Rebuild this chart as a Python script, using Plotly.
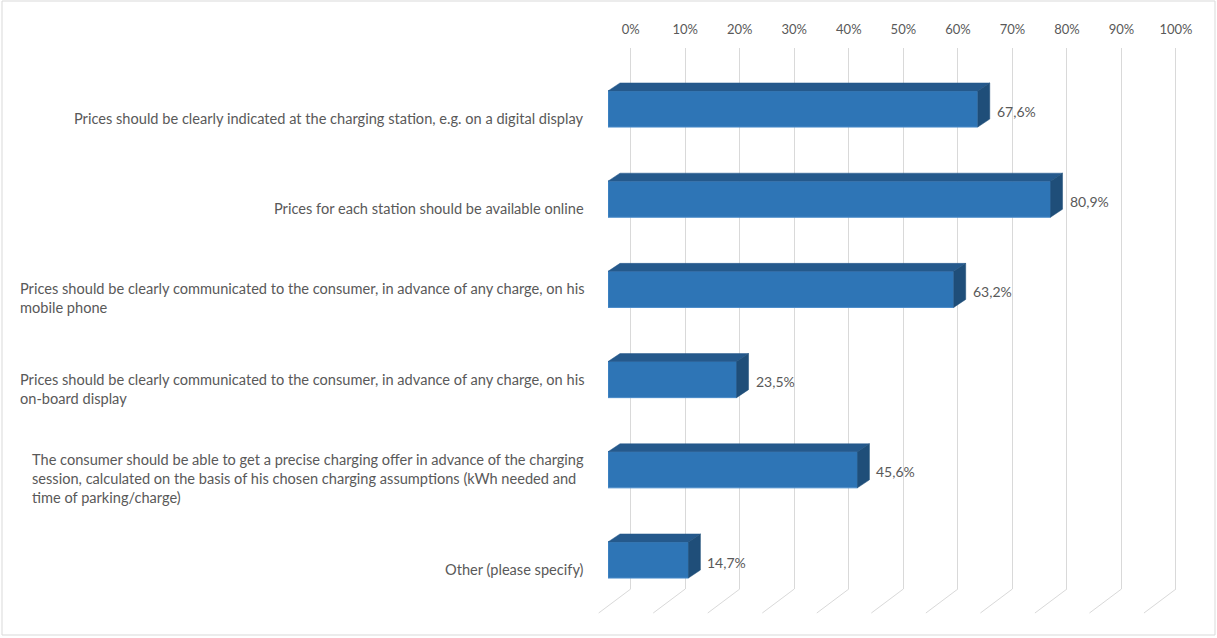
import plotly.graph_objects as go

# Survey answers (share of respondents)
categories = [
    "Prices should be clearly indicated at the charging station, e.g. on a digital display",
    "Prices for each station should be available online",
    "Prices should be clearly communicated to the consumer, in advance of any charge, on his<br>mobile phone",
    "Prices should be clearly communicated to the consumer, in advance of any charge, on his<br>on-board display",
    "The consumer should be able to get a precise charging offer in advance of the charging<br>session, calculated on the basis of his chosen charging assumptions (kWh needed and<br>time of parking/charge)",
    "Other (please specify)",
]
values = [67.6, 80.9, 63.2, 23.5, 45.6, 14.7]
tick_values = list(range(0, 101, 10))
tick_labels = [f"{t}%" for t in tick_values]

W, H = 1217, 638

# pixel geometry of the pseudo-3D frame
FRONT_X0, FRONT_PX = 608, 5.47      # bar front plane: left edge, px per %
BACK_X0, BACK_PX = 630.7, 5.453     # back wall: left edge, px per %
WALL_TOP, WALL_BOTTOM = 48, 589     # vertical extent of back wall grid
FLOOR_DX, FLOOR_DY = 32, 24         # floor depth (px)
ROW0, ROW_STEP = 109, 90.2          # centre of first bar, spacing (px)
BAR_H = 0.4                         # bar thickness in category units
DEPTH_DX, DEPTH_DY = 12, 8          # bar depth (px)
WALL_PAD = 7                        # extra room (in %) left of 0 for the floor lines

TEXT = "#595959"
GRID = "#d9d9d9"
FRONT = "#2e75b6"
TOP = "#25598c"
SIDE = "#1f4e79"
FONT = "Lato"

rows = list(range(len(categories)))

fig = go.Figure()

fig.add_trace(go.Bar(
    x=values, y=rows, orientation="h", width=BAR_H,
    xaxis="x2", yaxis="y2",
    marker=dict(color=FRONT, line=dict(color="#4a8bc9", width=1)),
    hoverinfo="skip", showlegend=False,
))

ddx = DEPTH_DX / FRONT_PX
ddy = DEPTH_DY / ROW_STEP
half = BAR_H / 2
shapes = []
annotations = []

for k, v in zip(rows, values):
    top, bot = k - half, k + half
    # top face
    shapes.append(dict(
        type="path", xref="x2", yref="y2", layer="above",
        path=f"M 0,{top} L {ddx},{top - ddy} L {v + ddx},{top - ddy} L {v},{top} Z",
        fillcolor=TOP, line=dict(color=TOP, width=0.5),
    ))
    # side face
    shapes.append(dict(
        type="path", xref="x2", yref="y2", layer="above",
        path=f"M {v},{top} L {v + ddx},{top - ddy} L {v + ddx},{bot - ddy} L {v},{bot} Z",
        fillcolor=SIDE, line=dict(color=SIDE, width=0.5),
    ))
    # value label
    annotations.append(dict(
        xref="x2", yref="y2", x=v + ddx, y=k + 2 / ROW_STEP,
        text=f"{v:.1f}".replace(".", ",") + "%",
        showarrow=False, xanchor="left", yanchor="middle", xshift=5,
        font=dict(family=FONT, size=14, color=TEXT),
    ))

for k, label in zip(rows, categories):
    annotations.append(dict(
        xref="paper", yref="y2", x=586 / W, y=k + 9 / ROW_STEP,
        text=label, showarrow=False, xanchor="right", yanchor="middle", align="left",
        font=dict(family=FONT, size=14.6, color=TEXT),
    ))

# floor part of the gridlines, slanting towards the viewer
floor_y0 = 1 - WALL_BOTTOM / H
floor_y1 = 1 - (WALL_BOTTOM + FLOOR_DY) / H
for t in tick_values:
    shapes.append(dict(
        type="line", xref="x", yref="paper", layer="below",
        x0=t, y0=floor_y0, x1=t - FLOOR_DX / BACK_PX, y1=floor_y1,
        line=dict(color=GRID, width=1),
    ))

# outer chart border
shapes.append(dict(
    type="rect", xref="paper", yref="paper", x0=2 / W, x1=1 - 2 / W, y0=3 / H, y1=1 - 1 / H,
    line=dict(color=GRID, width=1), layer="below",
))

fig.update_layout(
    template="none",
    width=W, height=H, autosize=False,
    margin=dict(l=0, r=0, t=0, b=0, pad=0),
    paper_bgcolor="white", plot_bgcolor="rgba(0,0,0,0)",
    separators=",.",
    showlegend=False,
    xaxis=dict(
        domain=[(BACK_X0 - WALL_PAD * BACK_PX) / W, (BACK_X0 + 100 * BACK_PX + 1) / W],
        range=[-WALL_PAD, 100 + 1 / BACK_PX],
        anchor="y", side="top", tickvals=tick_values, ticktext=tick_labels,
        showgrid=True, gridcolor=GRID, gridwidth=1,
        zeroline=True, zerolinecolor=GRID, zerolinewidth=1, showline=False,
        ticks="outside", ticklen=8, tickcolor="rgba(0,0,0,0)", automargin=False,
        tickfont=dict(family=FONT, size=13, color=TEXT), fixedrange=True,
    ),
    yaxis=dict(
        domain=[1 - WALL_BOTTOM / H, 1 - WALL_TOP / H], range=[0, 1],
        visible=False, fixedrange=True, automargin=False,
    ),
    xaxis2=dict(
        domain=[FRONT_X0 / W, (FRONT_X0 + 100 * FRONT_PX) / W], range=[0, 100],
        anchor="y2", visible=False, fixedrange=True, automargin=False,
    ),
    yaxis2=dict(
        domain=[0, 1], range=[(H - ROW0) / ROW_STEP, -ROW0 / ROW_STEP],
        anchor="x2", visible=False, fixedrange=True, automargin=False,
    ),
    shapes=shapes,
    annotations=annotations,
)

fig.write_html("out.html")
